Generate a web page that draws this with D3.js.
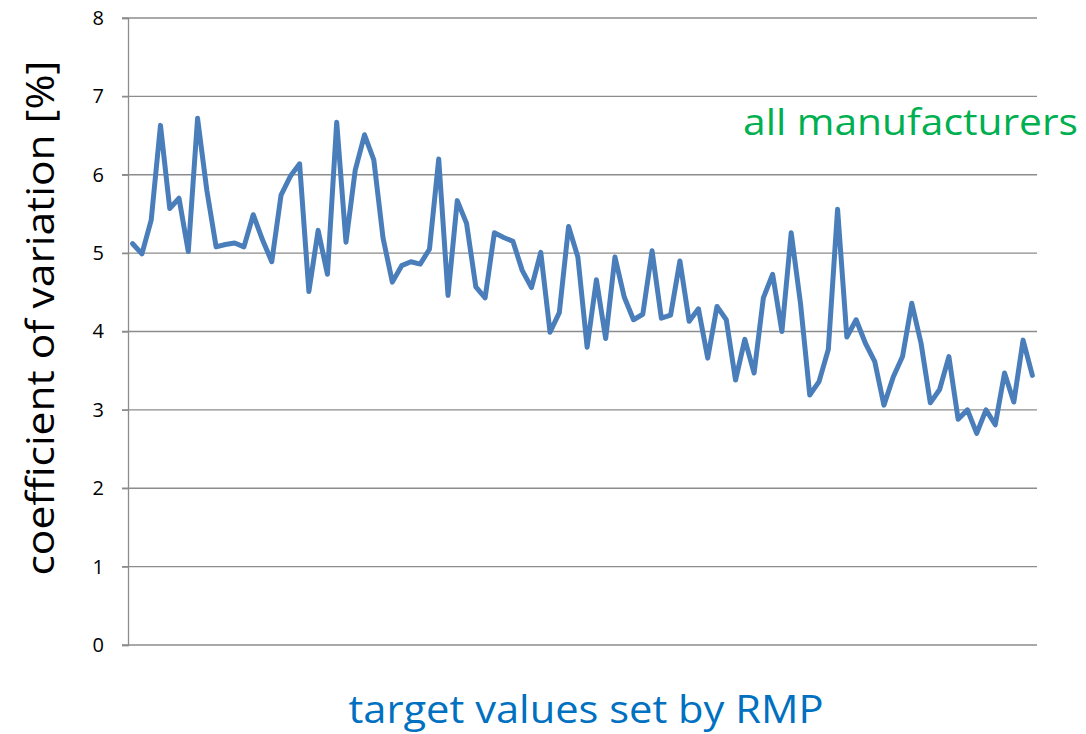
<!DOCTYPE html>
<html lang="en">
  <head>
    <meta charset="utf-8" />
    <script src="https://d3js.org/d3.v7.min.js" charset="utf-8"></script>
    <style>
      body {
        margin: 0;
        background: #fff;
        font-family: 'Open Sans', 'DejaVu Sans', sans-serif;
      }
      .grid line {
        stroke: #8c8c8c;
        stroke-width: 1.3;
      }
      .axis text {
        font-size: 20px;
        fill: #000;
      }
    </style>
  </head>
  <body>
    <div id="plot-container"></div>

    <script type="text/javascript">
      // data //--------------------------------------------------------

      // coefficient of variation [%], one value per target value
      var cv_values = [
        5.12, 4.99, 5.42, 6.63, 5.57, 5.70, 5.02, 6.72, 5.80, 5.08,
        5.11, 5.13, 5.08, 5.49, 5.17, 4.89, 5.74, 5.98, 6.14, 4.51,
        5.29, 4.73, 6.67, 5.14, 6.06, 6.51, 6.19, 5.19, 4.63, 4.84,
        4.89, 4.86, 5.05, 6.20, 4.46, 5.67, 5.38, 4.57, 4.43, 5.26,
        5.20, 5.15, 4.78, 4.56, 5.01, 3.99, 4.24, 5.34, 4.95, 3.80,
        4.66, 3.91, 4.95, 4.44, 4.15, 4.22, 5.03, 4.17, 4.21, 4.90,
        4.13, 4.29, 3.66, 4.32, 4.15, 3.38, 3.90, 3.47, 4.43, 4.73,
        4.00, 5.26, 4.36, 3.19, 3.36, 3.77, 5.56, 3.93, 4.15, 3.85,
        3.62, 3.06, 3.42, 3.68, 4.36, 3.85, 3.09, 3.26, 3.68, 2.88,
        3.00, 2.70, 3.00, 2.81, 3.47, 3.10, 3.89, 3.44
      ];

      // target values are unlabeled categories
      var categories = cv_values.map(function (d, i) {
        return i;
      });

      var y_ticks = [0, 1, 2, 3, 4, 5, 6, 7, 8];

      var y_title = 'coefficient of variation [%]';
      var x_title = 'target values set by RMP';
      var series_label = 'all manufacturers';

      // dimensions //--------------------------------------------------
      var container_dimensions = { width: 1086, height: 734 };
      var margin = { top: 18, right: 49, bottom: 89, left: 128 };
      var width = container_dimensions.width - margin.left - margin.right;
      var height = container_dimensions.height - margin.top - margin.bottom;

      var svg = d3
        .select('#plot-container')
        .append('svg')
        .attr('width', container_dimensions.width)
        .attr('height', container_dimensions.height);

      var plot = svg
        .append('g')
        .attr('transform', `translate(${margin.left}, ${margin.top})`);

      // scales
      var scale_x = d3.scalePoint().domain(categories).range([0, width]).padding(0.5);
      var scale_y = d3.scaleLinear().domain([0, 8]).range([height, 0]);

      // gridlines (include tick stubs left of the axis)
      plot
        .append('g')
        .attr('class', 'grid')
        .selectAll('line')
        .data(y_ticks)
        .join('line')
        .attr('x1', -6)
        .attr('x2', width)
        .attr('y1', (d) => scale_y(d))
        .attr('y2', (d) => scale_y(d));

      // y axis
      var y_axis = plot
        .append('g')
        .attr('class', 'axis')
        .call(d3.axisLeft(scale_y).tickValues(y_ticks).tickSize(6).tickPadding(18));
      y_axis.selectAll('line').attr('stroke', '#8c8c8c').attr('stroke-width', 1.3);
      y_axis.select('.domain').attr('stroke', '#8c8c8c').attr('stroke-width', 1.3);
      y_axis.selectAll('text').attr('font-family', "'Open Sans', sans-serif");

      // line
      var line = d3
        .line()
        .x((d, i) => scale_x(categories[i]))
        .y((d) => scale_y(d));

      plot
        .append('path')
        .datum(cv_values)
        .attr('fill', 'none')
        .attr('stroke', '#4a7ebb')
        .attr('stroke-width', 5)
        .attr('stroke-linejoin', 'round')
        .attr('stroke-linecap', 'round')
        .attr('d', line);

      // titles
      svg
        .append('text')
        .attr('transform', 'translate(54, 318) rotate(-90)')
        .attr('text-anchor', 'middle')
        .attr('font-size', 38)
        .attr('fill', '#000')
        .attr('textLength', 515)
        .attr('lengthAdjust', 'spacingAndGlyphs')
        .text(y_title);

      svg
        .append('text')
        .attr('x', 586)
        .attr('y', 723)
        .attr('text-anchor', 'middle')
        .attr('font-size', 38)
        .attr('fill', '#0070c0')
        .attr('textLength', 475)
        .attr('lengthAdjust', 'spacingAndGlyphs')
        .text(x_title);

      svg
        .append('text')
        .attr('x', 743)
        .attr('y', 135)
        .attr('text-anchor', 'start')
        .attr('font-size', 37)
        .attr('fill', '#00b050')
        .attr('textLength', 335)
        .attr('lengthAdjust', 'spacingAndGlyphs')
        .text(series_label);
    </script>
  </body>
</html>
